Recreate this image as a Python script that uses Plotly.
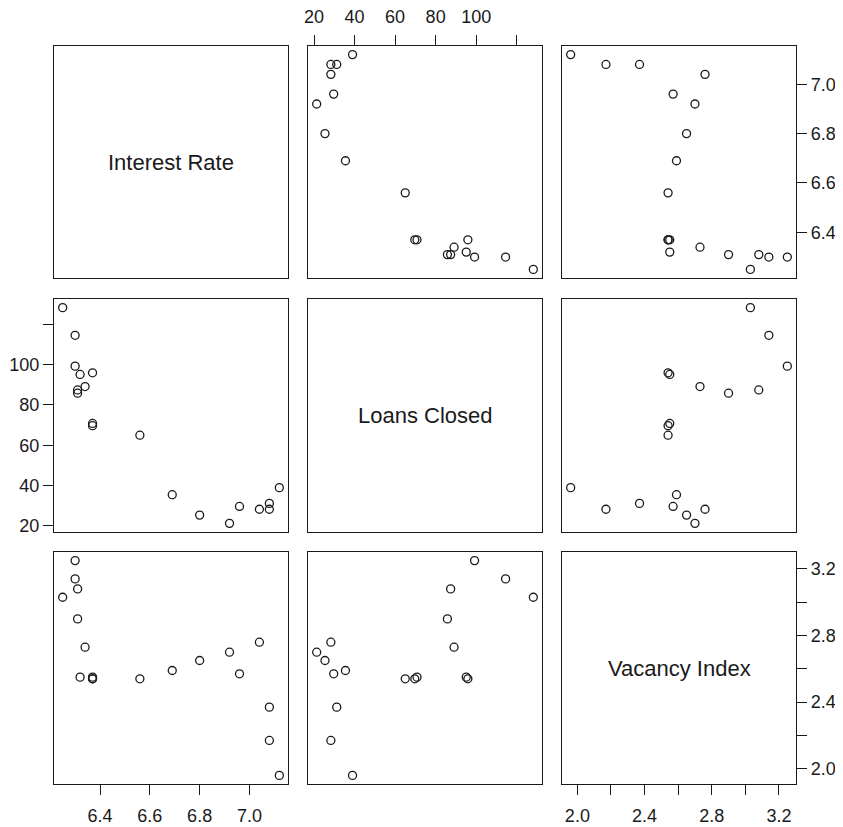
import plotly.graph_objects as go

# Data read from the scatterplot matrix
interest_rate = [6.30, 6.30, 6.31, 6.25, 6.31, 6.34, 6.32, 6.37, 6.37, 6.37,
                 6.56, 6.69, 6.80, 6.92, 6.96, 7.04, 7.08, 7.08, 7.12]
loans_closed = [99.2, 114.5, 87.4, 128.2, 85.8, 89.1, 95.1, 95.9, 70.8, 69.7,
                65.0, 35.5, 25.4, 21.3, 29.7, 28.3, 31.2, 28.3, 39.0]
vacancy_index = [3.25, 3.14, 3.08, 3.03, 2.90, 2.73, 2.55, 2.54, 2.55, 2.54,
                 2.54, 2.59, 2.65, 2.70, 2.57, 2.76, 2.37, 2.17, 1.96]

names = ["Interest Rate", "Loans Closed", "Vacancy Index"]
data = [interest_rate, loans_closed, vacancy_index]

rate_ticks = [6.4, 6.6, 6.8, 7.0]
rate_text = ["6.4", "6.6", "6.8", "7.0"]
loan_ticks = [20, 40, 60, 80, 100, 120]
loan_text = ["20", "40", "60", "80", "100", ""]
vac_ticks = [2.0, 2.2, 2.4, 2.6, 2.8, 3.0, 3.2]
vac_text = ["2.0", "", "2.4", "", "2.8", "", "3.2"]
tick_vals = [rate_ticks, loan_ticks, vac_ticks]
tick_text = [rate_text, loan_text, vac_text]


def padded(v):
    lo, hi = min(v), max(v)
    d = (hi - lo) * 0.04
    return [lo - d, hi + d]


ranges = [padded(v) for v in data]

# page body has an 8px margin, so the figure is offset by 8px
OFF = 8
W, H = 843 - OFF, 827 - OFF
cols_px = [(54, 288), (308, 542), (562, 796)]
rows_px = [(46, 278), (299, 532), (552, 784)]
ml = cols_px[0][0] - OFF
mt = rows_px[0][0] - OFF
mr = 843 - cols_px[2][1]
mb = 827 - rows_px[2][1]
pw = W - ml - mr
ph = H - mt - mb
xdom = [[(a - OFF - ml) / pw, (b - OFF - ml) / pw] for a, b in cols_px]
ydom = [[1 - (b - OFF - mt) / ph, 1 - (a - OFF - mt) / ph] for a, b in rows_px]

FONT = "Liberation Sans, Arial, Helvetica, sans-serif"
INK = "#1a1a1a"
fig = go.Figure()
layout = dict(
    width=W, height=H,
    margin=dict(l=ml, r=mr, t=mt, b=mb),
    paper_bgcolor="white", plot_bgcolor="white",
    showlegend=False,
    font=dict(family=FONT, size=18, color=INK),
)
annotations = []
tick_style = dict(ticks="outside", ticklen=10, tickwidth=1.2, tickcolor=INK,
                  showticklabels=True, tickfont=dict(family=FONT, size=18, color=INK))

for r in range(3):
    for c in range(3):
        k = r * 3 + c + 1
        xa = "xaxis" if k == 1 else f"xaxis{k}"
        ya = "yaxis" if k == 1 else f"yaxis{k}"
        xref = "x" if k == 1 else f"x{k}"
        yref = "y" if k == 1 else f"y{k}"
        base = dict(showgrid=False, zeroline=False, showline=True, mirror=True,
                    linecolor=INK, linewidth=1.3, showticklabels=False,
                    ticks="", automargin=False, fixedrange=True)
        xax = dict(domain=xdom[c], anchor=yref, range=ranges[c], **base)
        yax = dict(domain=ydom[r], anchor=xref, range=ranges[r], **base)
        if r == 2 and c in (0, 2):
            xax.update(side="bottom", tickvals=tick_vals[c], ticktext=tick_text[c],
                       ticklabelstandoff=5, **tick_style)
        if r == 0 and c == 1:
            xax.update(side="top", tickvals=tick_vals[c], ticktext=tick_text[c],
                       ticklabelstandoff=5, **tick_style)
        if c == 0 and r == 1:
            yax.update(side="left", tickvals=tick_vals[r], ticktext=tick_text[r], **tick_style)
        if c == 2 and r in (0, 2):
            yax.update(side="right", tickvals=tick_vals[r], ticktext=tick_text[r], **tick_style)
        layout[xa] = xax
        layout[ya] = yax
        if r == c:
            fig.add_trace(go.Scatter(x=[], y=[], xaxis=xref, yaxis=yref))
            annotations.append(dict(
                x=sum(ranges[c]) / 2, y=sum(ranges[r]) / 2, xref=xref, yref=yref,
                text=names[r], showarrow=False,
                font=dict(family=FONT, size=22, color=INK)))
        else:
            fig.add_trace(go.Scatter(
                x=data[c], y=data[r], mode="markers", xaxis=xref, yaxis=yref,
                marker=dict(symbol="circle-open", size=8, color=INK,
                            line=dict(width=1.3, color=INK)),
                hoverinfo="x+y"))

layout["annotations"] = annotations
fig.update_layout(**layout)
fig.write_html("out.html")
